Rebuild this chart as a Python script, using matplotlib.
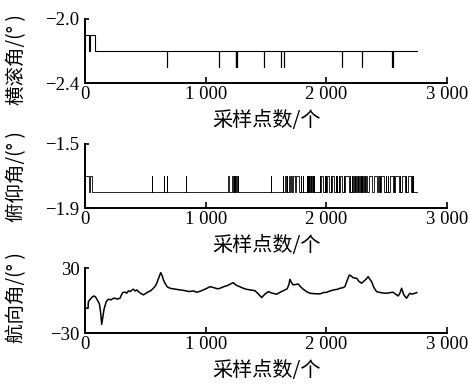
import numpy as np
import matplotlib
matplotlib.use("Agg")
from matplotlib import pyplot as plt

# --- data ---
x_ticks = [0, 1000, 2000, 3000]
x_ticklabels = ["0", "1 000", "2 000", "3 000"]
n_end = 2750

# roll: baseline, raised steps at start, short drops
roll_base = -2.2
roll_high = -2.1
roll_low = -2.3
roll_high_spans = [(3, 35), (42, 80)]
roll_low_spans = [(677, 678), (1113, 1114), (1248, 1249), (1253, 1254), (1257, 1258),
                  (1486, 1487), (1623, 1624), (1652, 1653), (2126, 2127), (2292, 2293),
                  (2541, 2542), (2553, 2554)]

# pitch: baseline -1.8, pulses to -1.7
pitch_base = -1.8
pitch_high = -1.7
pitch_spans = [(0, 35), (42, 55),
               (551, 552), (656, 657), (676, 677), (836, 837),
               (1188, 1189), (1222, 1224), (1234, 1236), (1244, 1246), (1254, 1256),
               (1264, 1266), (1540, 1541),
               (1642, 1644), (1660, 1662), (1676, 1678), (1694, 1696), (1710, 1712),
               (1722, 1738), (1748, 1774), (1790, 1792), (1808, 1810),
               (1836, 1839), (1846, 1849), (1856, 1859), (1866, 1869), (1876, 1879),
               (1886, 1890), (1896, 1900),
               (1947, 1949), (1958, 1975), (1985, 1987), (1995, 1997), (2005, 2025),
               (2036, 2038), (2046, 2066), (2076, 2078), (2090, 2092), (2104, 2106),
               (2114, 2132), (2144, 2146), (2158, 2184), (2196, 2198),
               (2212, 2215), (2224, 2227), (2236, 2239), (2248, 2251), (2260, 2263),
               (2272, 2275), (2284, 2287), (2296, 2299), (2308, 2311), (2320, 2323),
               (2332, 2335),
               (2350, 2380), (2392, 2420), (2432, 2434), (2444, 2446), (2456, 2480),
               (2494, 2496), (2508, 2510), (2524, 2550), (2562, 2564), (2572, 2600),
               (2612, 2614), (2624, 2650), (2662, 2664), (2674, 2700), (2710, 2712),
               (2720, 2722)]

# heading
head_x = [0, 25, 27, 40, 60, 75, 90, 105, 119, 128, 138, 145, 157, 175, 193, 215, 240,
          265, 290, 300, 312, 330, 345, 360, 375, 390, 400, 415, 430, 442, 460, 483,
          500, 520, 540, 552, 570, 585, 594, 610, 627, 640, 650, 663, 680, 704, 730,
          760, 787, 820, 860, 900, 925, 960, 1000, 1036, 1070, 1100, 1118, 1150, 1180,
          1205, 1229, 1250, 1280, 1312, 1340, 1370, 1408, 1430, 1450, 1464, 1490, 1519,
          1550, 1588, 1620, 1657, 1675, 1690, 1698, 1710, 1726, 1745, 1767, 1790, 1809,
          1835, 1864, 1900, 1947, 1975, 2002, 2030, 2060, 2090, 2113, 2135, 2154, 2170,
          2190, 2205, 2220, 2235, 2251, 2270, 2292, 2310, 2330, 2347, 2360, 2375, 2395,
          2417, 2450, 2480, 2500, 2530, 2554, 2575, 2596, 2610, 2624, 2640, 2655, 2665,
          2680, 2693, 2710, 2734, 2750]
head_y = [-7, -7, -1, 1, 3.5, 4.4, 3, 0, -3, -10, -22, -17, -8, -1, 1.4, 0.8, 2.5,
          1.5, 2.3, 5, 7.5, 8, 7, 9, 8.5, 10, 10.6, 9, 10, 8.4, 7, 5.4,
          6.5, 8, 9, 10, 12, 14, 16.2, 21, 26, 23, 19, 16.2, 13, 11.5, 11,
          10.5, 10, 9.5, 8.5, 9, 7.8, 9, 11, 13, 12, 11, 11.5, 13, 14,
          15.5, 16.7, 14.5, 13, 11.5, 10.5, 10, 9.3, 7, 4.5, 2.9, 6, 8.4,
          7, 6, 8, 10, 11, 15, 19.8, 17, 14.6, 15, 15.5, 12.5, 10.6,
          8.5, 6.9, 6.5, 6.3, 7.5, 7.8, 9, 10, 10.5, 11.5, 12, 13, 18,
          23.8, 23, 21.5, 21, 20.8, 18, 16.2, 18, 20, 22.3, 20, 17.7, 12,
          8.4, 7.5, 7, 6.9, 7.5, 7.8, 6, 4.4, 7, 11.5, 6, 3.5, 2.3,
          5, 6.9, 6, 6.9, 7.5]


def step_line(base, spans):
    # spans: (start, end, level)
    xs = [0]
    ys = [base]
    for s, e, lv in spans:
        xs += [s, s, e, e]
        ys += [base, lv, lv, base]
    xs.append(n_end)
    ys.append(base)
    return xs, ys


roll_xs, roll_ys = step_line(roll_base, sorted(
    [(s, e, roll_high) for s, e in roll_high_spans] +
    [(s, e, roll_low) for s, e in roll_low_spans]))
pitch_xs, pitch_ys = step_line(pitch_base, [(s, e, pitch_high) for s, e in pitch_spans])

# --- figure ---
tick_font = dict(family="Liberation Serif", size=13.5)
cjk = ["Noto Sans CJK SC", "DejaVu Sans"]

fig = plt.figure(figsize=(4.7, 3.85), dpi=100)
fig.patch.set_facecolor("w")

panels = [
    dict(rect=[0.181, 0.784, 0.770, 0.167], xs=roll_xs, ys=roll_ys, ylim=(-2.4, -2.0),
         yt=["−2.4", "−2.0"], ylab="横滚角/(° )", lab_y=0.36, lw=0.8),
    dict(rect=[0.181, 0.459, 0.770, 0.167], xs=pitch_xs, ys=pitch_ys, ylim=(-1.9, -1.5),
         yt=["−1.9", "−1.5"], ylab="俯仰角/(° )", lab_y=0.5, lw=0.6),
    dict(rect=[0.181, 0.135, 0.770, 0.168], xs=head_x, ys=head_y, ylim=(-30, 30),
         yt=["−30", "30"], ylab="航向角/(° )", lab_y=0.55, lw=1.1),
]

for p in panels:
    ax = fig.add_axes(p["rect"])
    ax.plot(p["xs"], p["ys"], color="black", lw=p["lw"])
    ax.set_xlim(0, 3000)
    ax.set_ylim(*p["ylim"])
    for side in ["top", "right"]:
        ax.spines[side].set_visible(False)
    for side in ["left", "bottom"]:
        ax.spines[side].set_linewidth(1.4)
    ax.set_xticks(x_ticks)
    ax.set_xticklabels(x_ticklabels, fontdict=tick_font)
    ax.set_yticks(list(p["ylim"]))
    ax.set_yticklabels(p["yt"], fontdict=tick_font)
    ax.tick_params(axis="x", direction="in", length=4, width=1.2, pad=2)
    ax.tick_params(axis="y", direction="in", length=3, width=1.2, pad=4)
    ax.set_xlabel("采样点数/个", family=cjk, fontsize=14.5, labelpad=5)
    ax.set_ylabel(p["ylab"], family=cjk, fontsize=14)
    ax.yaxis.set_label_coords(-0.16, p["lab_y"])

fig.savefig("out.png", dpi=100)
